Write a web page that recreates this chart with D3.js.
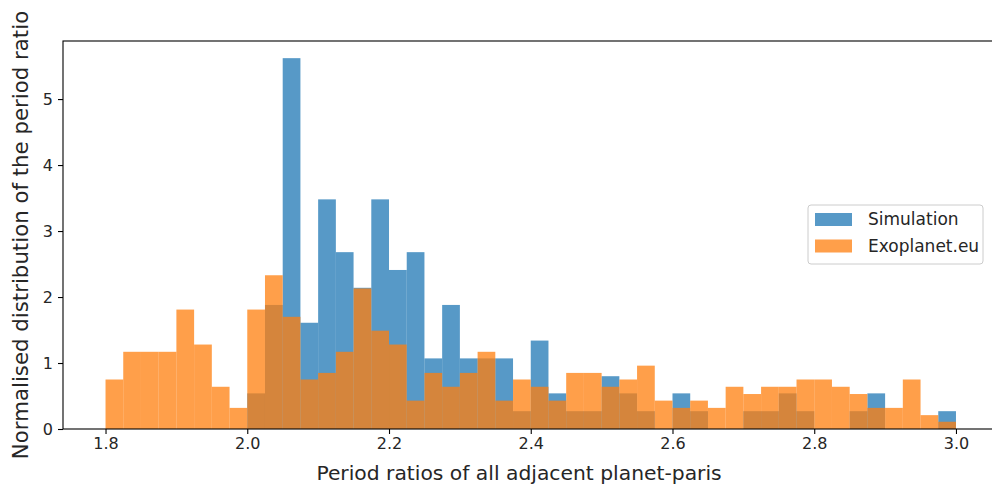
<!DOCTYPE html>
<html>
<head>
<meta charset="utf-8">
<script src="https://cdn.jsdelivr.net/npm/d3@7"></script>
<style>
  html, body { margin: 0; padding: 0; background: #fff; }
  svg { display: block; font-family: "DejaVu Sans", sans-serif; }
</style>
</head>
<body>
<svg id="chart" width="992" height="486"></svg>
<script>
// bin edges shared by both histograms
const binEdges = [1.8, 1.825, 1.85, 1.875, 1.9, 1.925, 1.95, 1.975, 2.0, 2.025, 2.05, 2.075,
  2.1, 2.125, 2.15, 2.175, 2.2, 2.225, 2.25, 2.275, 2.3, 2.325, 2.35, 2.375,
  2.4, 2.425, 2.45, 2.475, 2.5, 2.525, 2.55, 2.575, 2.6, 2.625, 2.65, 2.675,
  2.7, 2.725, 2.75, 2.775, 2.8, 2.825, 2.85, 2.875, 2.9, 2.925, 2.95, 2.975, 3.0];

const simValues = [0, 0, 0, 0, 0, 0, 0, 0,
  0.54, 1.88, 5.62, 1.61, 3.48, 2.68, 2.14, 3.48, 2.41, 2.68, 1.07, 1.88,
  1.07, 1.07, 1.07, 0.27, 1.34, 0.54, 0.27, 0.27, 0.80, 0.54, 0.27, 0,
  0.54, 0.27, 0, 0, 0.27, 0.27, 0.54, 0.27, 0, 0, 0.27, 0.54, 0, 0, 0, 0.27];

const exoValues = [0.75, 1.17, 1.17, 1.17, 1.81, 1.28, 0.64, 0.32,
  1.81, 2.33, 1.70, 0.75, 0.85, 1.17, 2.13, 1.49, 1.28, 0.43, 0.85, 0.64,
  0.85, 1.17, 0.43, 0.75, 0.64, 0.43, 0.85, 0.85, 0.64, 0.75, 0.96, 0.43,
  0.32, 0.43, 0.32, 0.64, 0.53, 0.64, 0.64, 0.75, 0.75, 0.64, 0.53, 0.32,
  0.32, 0.75, 0.21, 0.11];

const xTicks = [1.8, 2.0, 2.2, 2.4, 2.6, 2.8, 3.0];
const yTicks = [0, 1, 2, 3, 4, 5];

const series = [
  { name: "Simulation", values: simValues, color: "#1f77b4" },
  { name: "Exoplanet.eu", values: exoValues, color: "#ff7f0e" }
];

const svg = d3.select("#chart");
const plotLeft = 63, plotTop = 41, plotBottom = 429, plotRight = 998.5;

const x = d3.scaleLinear().domain([1.74, 3.06]).range([plotLeft, plotRight]);
const y = d3.scaleLinear().domain([0, 5.88]).range([plotBottom, plotTop]);

const plot = svg.append("g");
series.forEach(s => {
  plot.append("g").selectAll("rect")
    .data(s.values.map((v, i) => ({ v, x0: binEdges[i], x1: binEdges[i + 1] })).filter(d => d.v > 0))
    .join("rect")
    .attr("x", d => x(d.x0))
    .attr("width", d => x(d.x1) - x(d.x0))
    .attr("y", d => y(d.v))
    .attr("height", d => y(0) - y(d.v))
    .attr("fill", s.color)
    .attr("fill-opacity", 0.75);
});

// axes
const xAxis = d3.axisBottom(x).tickValues(xTicks).tickFormat(d3.format(".1f")).tickSize(5).tickPadding(4);
const yAxis = d3.axisLeft(y).tickValues(yTicks).tickFormat(d3.format("d")).tickSize(5).tickPadding(5);

const gx = svg.append("g").attr("transform", `translate(0,${plotBottom})`).call(xAxis);
const gy = svg.append("g").attr("transform", `translate(${plotLeft},0)`).call(yAxis);
[gx, gy].forEach(g => {
  g.select(".domain").remove();
  g.selectAll(".tick line").attr("stroke", "#000").attr("stroke-width", 1.1);
  g.selectAll(".tick text").attr("fill", "#262626").attr("font-size", 16).attr("font-family", "DejaVu Sans");
});

svg.append("rect")
  .attr("x", plotLeft).attr("y", plotTop)
  .attr("width", plotRight - plotLeft).attr("height", plotBottom - plotTop)
  .attr("fill", "none").attr("stroke", "#000").attr("stroke-width", 1.1);

svg.append("text")
  .attr("x", 519).attr("y", 480)
  .attr("text-anchor", "middle").attr("font-size", 20.3).attr("fill", "#262626")
  .text("Period ratios of all adjacent planet-paris");

svg.append("text")
  .attr("transform", `translate(28,${(plotTop + plotBottom) / 2}) rotate(-90)`)
  .attr("text-anchor", "middle").attr("font-size", 21.3).attr("fill", "#262626")
  .text("Normalised distribution of the period ratio");

// legend
const legend = svg.append("g").attr("transform", "translate(808,205)");
legend.append("rect")
  .attr("width", 175).attr("height", 59).attr("rx", 3)
  .attr("fill", "#fff").attr("fill-opacity", 0.8)
  .attr("stroke", "#cccccc").attr("stroke-width", 1);
series.forEach((s, i) => {
  const row = legend.append("g").attr("transform", `translate(0,${14.5 + i * 26.5})`);
  row.append("rect").attr("x", 7).attr("y", -6.5).attr("width", 37).attr("height", 13)
    .attr("fill", s.color).attr("fill-opacity", 0.75);
  row.append("text").attr("x", 60).attr("y", 0).attr("dy", "0.35em")
    .attr("font-size", 17).attr("fill", "#262626").text(s.name);
});
</script>
</body>
</html>
